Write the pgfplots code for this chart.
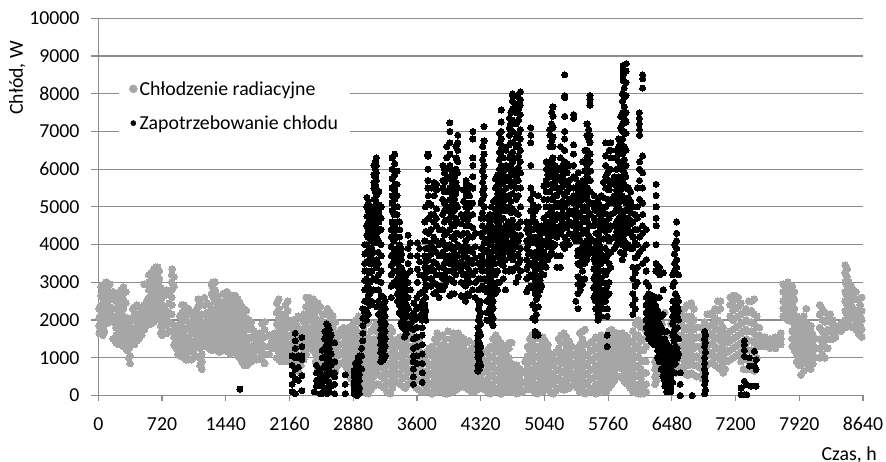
\documentclass[border=0pt]{standalone}
\usepackage{fontspec}
\setmainfont{Carlito}
\usepackage{pgfplots}
\usepackage{pgfplotstable}
\pgfplotsset{compat=1.18}
\definecolor{gridc}{HTML}{8C8C8C}
\definecolor{grayd}{HTML}{A6A6A6}
\pgfplotstableread{
t a b c d e f g h
10 1650 1850 2050 2300 nan nan nan nan
50 1600 1800 2000 2200 2400 2600 2800 nan
90 1900 2100 2300 2500 2700 2850 3000 nan
130 1950 2150 2350 2550 2750 2950 nan nan
230 1350 1550 1750 1950 2150 2350 2550 2700
285 1300 1500 1700 1900 2100 2300 2550 2880
330 1200 1400 1600 1800 2050 nan nan nan
360 850 1050 1300 1550 1800 2000 nan nan
410 1350 1550 1750 2000 2200 2350 nan nan
460 1500 1700 1900 2150 2350 nan nan nan
520 1750 1950 2150 2400 2950 nan nan nan
570 1950 2150 2350 2600 2800 3000 3200 nan
600 1900 2100 2300 2500 2700 2900 3100 3250
650 2000 2200 2400 2600 2800 3000 3200 3400
690 2100 2300 2500 2700 2900 3100 3300 nan
720 1600 1800 2000 2200 2400 2600 2800 nan
770 1650 1850 2050 2250 2800 nan nan nan
830 1700 1900 2150 2400 2600 2800 3000 3200
835 3350 nan nan nan nan nan nan nan
880 1250 1450 1650 1850 nan nan nan nan
920 1050 1250 1450 1700 1900 2100 nan nan
965 1000 1200 1400 1600 1800 2050 2400 nan
1020 950 1150 1350 1550 1750 1950 2150 2300
1075 1000 1200 1400 1650 1850 2050 nan nan
1130 1350 1550 1750 1950 2150 2350 2550 nan
1170 700 900 1100 1300 1500 1700 1900 2150
1225 1400 1600 1800 2000 2200 2450 nan nan
1280 1200 1400 1650 1850 2100 2300 2700 2950
1320 1300 1500 1700 1900 2200 2500 2800 3000
1370 1150 1400 1600 1800 2000 2250 2500 nan
1450 1250 1450 1650 1850 2050 2300 2550 2750
1490 1100 1300 1500 1700 1900 2100 2350 2600
1550 1250 1450 1650 1850 2050 2250 2450 2650
1600 1000 1200 1400 1600 1800 2000 2200 2450
1650 800 1000 1200 1400 1600 1850 2100 2300
1700 850 1050 1250 1500 1750 2000 nan nan
1760 950 1150 1350 1550 1700 nan nan nan
1820 1000 1200 1450 1650 nan nan nan nan
1880 850 1100 1300 1550 1750 1950 nan nan
1930 1100 1300 1600 nan nan nan nan nan
1990 1400 1550 1650 nan nan nan nan nan
2040 950 1150 1350 1550 1800 2050 2300 2550
2090 900 1100 1300 1550 1800 2000 nan nan
2140 900 1100 1300 1550 1800 2000 2250 2500
2200 850 1000 1250 1500 1750 2000 nan nan
2260 650 850 1050 1300 1550 1800 2100 nan
2320 950 1200 1450 1700 1950 2150 nan nan
2380 1250 1500 1750 2000 2250 2500 2600 nan
2430 1200 1400 1650 1900 2150 2400 2550 nan
2480 700 950 1200 1450 1700 1950 2250 2450
2540 400 600 850 1100 1350 1600 1850 2150
2590 500 800 1100 1400 1650 1950 2300 nan
2650 550 800 1050 1300 1550 1800 2100 nan
2710 800 1050 1300 1550 nan nan nan nan
2770 900 1150 1400 1650 1800 nan nan nan
2830 600 850 1100 1350 1600 1800 nan nan
2880 300 550 800 1050 1300 1600 1900 nan
2940 100 350 600 850 1100 1350 1650 2100
3000 150 400 650 900 1150 1400 1700 2050
3050 50 300 550 800 1050 1300 1550 1950
3110 250 500 750 1000 1250 1500 1800 nan
3170 300 550 800 1050 1300 1550 1850 nan
3230 200 450 700 950 1200 1450 1750 nan
3300 50 300 550 800 1050 1300 1550 1800
3350 400 650 900 1150 1400 nan nan nan
3410 300 550 800 1050 1300 1550 nan nan
3470 200 500 800 1100 1350 1600 nan nan
3530 400 700 1000 1300 1650 nan nan nan
3590 200 500 800 1100 1400 1800 nan nan
3650 100 400 700 1000 nan nan nan nan
3710 150 400 650 900 1150 nan nan nan
3770 50 300 550 800 1050 1300 nan nan
3830 100 350 600 850 1100 1400 1650 nan
3890 100 350 600 850 1100 1350 1600 nan
3950 50 300 550 800 1050 1300 1700 nan
4010 100 350 600 850 1100 1350 1650 nan
4070 200 450 700 950 1200 1450 1650 nan
4130 250 500 750 1000 1250 1500 nan nan
4190 150 400 650 900 1150 1450 nan nan
4250 100 350 600 850 1100 1350 nan nan
4310 250 500 750 1000 1300 nan nan nan
4370 150 400 650 900 1150 nan nan nan
4430 50 300 550 800 1050 1300 nan nan
4490 150 400 650 900 1150 1400 1600 nan
4550 50 300 550 800 1100 1400 nan nan
4610 100 350 600 850 1100 1300 nan nan
4670 100 350 600 850 1400 nan nan nan
4730 50 300 550 800 nan nan nan nan
4790 100 350 600 nan nan nan nan nan
4850 200 500 800 1050 1300 nan nan nan
4900 150 400 650 900 1150 1400 1600 nan
4960 50 300 550 800 1050 1300 1650 nan
5020 100 350 600 850 1100 1350 1550 nan
5080 200 450 700 950 1200 1350 nan nan
5140 50 300 550 800 1000 nan nan nan
5200 200 450 700 950 1250 1500 nan nan
5260 150 400 650 900 1150 1400 1650 nan
5320 200 450 700 950 1200 1450 nan nan
5380 350 600 850 1100 nan nan nan nan
5440 100 350 600 850 1100 1350 1650 nan
5500 50 300 550 800 1050 1350 1750 nan
5560 200 450 700 950 1200 1400 nan nan
5620 50 300 550 800 1050 1300 1550 nan
5680 150 400 650 900 1150 1400 1600 nan
5740 100 350 600 850 1100 1350 nan nan
5800 300 550 800 1050 1300 1600 1750 nan
5860 500 750 1000 1250 1500 1650 nan nan
5920 450 700 950 1200 1450 1650 nan nan
5980 300 550 800 1050 1300 1550 nan nan
6040 100 350 600 850 1100 1400 1700 nan
6100 50 300 550 800 1050 1300 1600 2000
6160 50 300 600 900 1200 1500 1900 nan
6290 300 500 700 900 nan nan nan nan
6340 800 1050 1300 1500 1700 2000 nan nan
6400 1000 1300 1600 2200 nan nan nan nan
6470 700 1000 1300 1600 1900 nan nan nan
6530 600 900 1200 1500 1800 2100 nan nan
6590 750 1000 1300 1600 1900 2200 nan nan
6650 550 800 1050 1300 1550 1800 2100 2400
6700 600 850 1100 1350 1600 1850 2100 2450
6760 500 800 1050 1300 1550 1800 nan nan
6820 450 700 950 1200 1500 1800 nan nan
6880 800 1050 1300 1550 1800 2150 nan nan
6940 900 1150 1400 1650 1900 2200 nan nan
7000 750 1000 1250 1500 1750 2000 2250 2500
7060 600 850 1100 1350 1600 1800 nan nan
7110 900 1150 1400 1600 nan nan nan nan
7170 1000 1250 1500 1750 2000 2250 2500 2650
7230 1100 1350 1600 1850 2100 2350 2600 nan
7290 700 950 1200 1450 1700 1950 2200 nan
7350 700 950 1200 1450 1700 1950 2200 2500
7410 650 900 1150 1400 1650 1900 2150 2550
7470 1300 1450 1600 1800 nan nan nan nan
7530 1300 1450 1550 nan nan nan nan nan
7590 1250 1400 1500 nan nan nan nan nan
7650 1250 1400 1550 nan nan nan nan nan
7710 1350 1500 1650 nan nan nan nan nan
7740 2100 2300 2500 2750 2950 nan nan nan
7790 2000 2200 2400 2600 2800 3000 nan nan
7840 1300 1500 1700 1950 2200 2450 2700 2900
7890 900 1100 1350 1600 1850 2100 nan nan
7940 550 800 1050 1300 1550 1800 2000 nan
8000 950 1200 1450 1700 1950 2300 nan nan
8050 700 950 1200 1450 1700 1850 nan nan
8100 1000 1250 1500 nan nan nan nan nan
8150 1000 1250 1500 1800 2150 2400 nan nan
8210 1000 1300 1600 1950 2200 nan nan nan
8270 1500 1700 1950 2150 nan nan nan nan
8330 1550 1700 1850 nan nan nan nan nan
8390 1700 1900 nan nan nan nan nan nan
8440 1800 2000 2250 2500 2750 3000 3250 3450
8480 1850 2050 2300 2500 2750 3000 nan nan
8530 1800 2050 2300 2550 2800 nan nan nan
8590 1650 1900 2200 2550 nan nan nan nan
8625 1550 1750 2000 2250 2600 nan nan nan
30 1750 1950 2150 2400 2650 2900 nan nan
70 1700 1900 2100 2300 2500 2700 2950 nan
110 2000 2200 2400 2600 2800 2950 nan nan
170 1500 1950 2050 2300 2600 2750 nan nan
200 1400 1600 1800 2100 2300 2500 nan nan
260 1400 1600 1850 2050 2250 2450 2650 2800
310 1250 1450 1650 1850 2000 2450 2750 nan
345 1000 1250 1500 1700 1900 nan nan nan
390 1350 1550 1750 2050 2300 nan nan nan
435 1450 1650 1850 2100 2400 nan nan nan
490 1600 1800 2050 2300 nan nan nan nan
545 1850 2050 2250 2500 2950 nan nan nan
625 1950 2150 2350 2550 2750 2950 3150 3350
670 2050 2250 2450 2650 2850 3050 3250 3400
705 1650 1850 2050 2250 2450 2650 2850 nan
745 1650 1850 2100 2300 2650 nan nan nan
800 1700 1950 2200 2450 2700 nan nan nan
855 1350 1550 1750 2900 3150 nan nan nan
900 1100 1350 1600 1850 nan nan nan nan
945 1050 1300 1500 1750 1950 2200 2400 nan
990 950 1150 1350 1550 1750 2000 2250 nan
1050 950 1250 1450 1700 1950 2200 nan nan
1100 1050 1300 1500 1750 1950 2250 nan nan
1150 800 1000 1250 1450 1650 1900 2100 2450
1200 1300 1500 1700 1950 2150 2400 2600 nan
1250 1250 1500 1750 1950 2200 2400 nan nan
1300 1250 1450 1750 2000 2250 2600 2850 3000
1345 1200 1450 1650 1850 2100 2350 2650 nan
1410 1200 1350 1550 1750 1950 2150 2400 2700
1470 1150 1400 1600 1800 2000 2200 2450 2700
1520 1150 1350 1550 1750 1950 2200 2500 2650
1575 1050 1300 1500 1700 1900 2100 2350 2550
1625 900 1100 1300 1500 1700 1950 2150 2350
1675 800 950 1150 1350 1550 1800 2050 2250
1730 900 1100 1300 1550 1800 1950 nan nan
1790 950 1250 1450 1650 nan nan nan nan
1850 950 1150 1350 1600 1900 nan nan nan
1960 1250 1450 1600 nan nan nan nan nan
2015 1000 1250 1450 1650 1900 2200 2450 nan
2065 900 1200 1400 1650 1900 2150 nan nan
2115 950 1200 1400 1650 1900 2150 2400 nan
2170 900 1150 1350 1600 1850 nan nan nan
2230 750 950 1150 1400 1650 1900 nan nan
2290 800 1050 1300 1500 1750 2050 nan nan
2350 1100 1350 1600 1850 2100 2350 2600 nan
2405 1250 1500 1800 2050 2300 2550 nan nan
2455 900 1100 1300 1550 1800 2050 2300 nan
2510 550 800 1000 1250 1500 1750 2000 2350
2565 450 700 950 1250 1500 1800 2150 nan
2620 500 700 950 1250 1500 1700 2000 2200
2680 650 900 1150 1400 1650 1950 nan nan
2740 850 1100 1350 1600 1750 nan nan nan
2800 750 1000 1250 1500 1700 nan nan nan
2855 450 700 950 1200 1450 1700 nan nan
2910 200 450 700 950 1200 1450 1750 2000
2970 100 250 500 750 1000 1250 1550 1900
3025 100 250 500 750 1000 1250 1500 1900
3080 150 400 650 900 1150 1400 1700 nan
3140 300 650 900 1150 1400 1700 1900 nan
3200 250 500 750 1000 1250 1500 1800 nan
3265 100 350 600 850 1100 1350 1650 nan
3325 200 450 700 950 1200 1450 1700 nan
3380 350 550 800 1050 1300 1500 nan nan
3440 250 450 700 950 1200 1450 nan nan
3500 300 600 900 1200 1500 nan nan nan
3560 300 600 900 1200 1500 1750 nan nan
3620 150 400 650 900 1200 1500 nan nan
3680 100 300 550 850 1100 nan nan nan
3740 100 300 550 800 1100 1250 nan nan
3800 100 200 450 700 950 1200 1500 nan
3860 150 250 500 750 1000 1250 1550 nan
3920 50 200 450 700 950 1200 1500 nan
3980 100 200 450 700 950 1200 1500 nan
4040 150 250 500 750 1000 1250 1550 nan
4100 250 350 600 850 1100 1350 1550 nan
4160 200 350 600 850 1100 1400 nan nan
4220 100 250 500 750 1000 1250 nan nan
4280 150 400 650 900 1150 nan nan nan
4340 200 350 600 850 1100 nan nan nan
4400 100 200 450 700 950 1200 nan nan
4460 100 250 500 750 1000 1250 1500 nan
4520 100 200 450 700 950 1250 1500 nan
4580 80 200 450 700 950 1200 nan nan
4640 100 250 500 750 1000 1250 1400 nan
4700 80 200 450 700 nan nan nan nan
4760 80 200 450 700 nan nan nan nan
4820 150 350 650 900 nan nan nan nan
4875 170 350 650 950 1200 1500 nan nan
4930 100 250 500 750 1000 1250 1500 1650
4990 80 200 450 700 950 1200 1500 nan
5050 150 250 500 750 1000 1250 1450 nan
5110 100 350 600 850 1100 nan nan nan
5170 120 400 650 900 1150 nan nan nan
5230 170 350 600 850 1100 1400 1600 nan
5290 170 300 550 800 1050 1300 1550 nan
5350 250 550 800 1050 1300 nan nan nan
5410 200 450 750 1000 1250 nan nan nan
5470 80 200 450 700 950 1200 1500 1700
5530 100 350 600 850 1100 1350 nan nan
5590 100 200 450 700 950 1200 1450 nan
5650 100 250 500 750 1000 1250 1500 nan
5710 120 250 500 750 1000 1250 1500 nan
5770 200 450 700 950 1200 1500 1700 nan
5830 400 650 900 1150 1400 1650 nan nan
5890 500 850 1100 1350 1600 nan nan nan
5950 350 600 850 1100 1350 1600 nan nan
6010 200 450 700 950 1200 1450 nan nan
6070 80 250 500 750 1000 1250 1550 1900
6130 50 200 450 700 950 1200 1450 1800
6190 100 300 600 900 1300 1700 nan nan
6310 400 600 800 1000 1500 nan nan nan
6370 900 1150 1400 1600 1900 nan nan nan
6500 650 950 1250 1550 1850 2050 nan nan
6560 700 1000 1300 1600 1900 2150 nan nan
6620 650 900 1150 1450 1750 2050 2300 nan
6675 550 800 1000 1250 1500 1750 2000 2400
6730 550 800 1000 1250 1500 1750 2000 2300
6790 500 750 1000 1300 1550 1800 nan nan
6850 600 850 1100 1350 1650 1950 nan nan
6910 850 1100 1350 1600 1850 2150 nan nan
6970 800 1050 1300 1550 1800 2050 2300 nan
7030 700 950 1200 1450 1700 1950 2300 2500
7085 700 950 1200 1450 1650 nan nan nan
7140 950 1200 1450 1700 2100 2400 2600 nan
7200 1050 1300 1550 1800 2050 2300 2550 2650
7260 900 1150 1400 1650 1900 2150 2450 nan
7320 700 950 1250 1500 1750 2000 2300 nan
7380 700 950 1200 1450 1700 1950 2250 2500
7440 1000 1300 1550 1800 2100 nan nan nan
7810 2100 2300 2500 2700 2900 nan nan nan
7765 2050 2250 2450 2650 2850 nan nan nan
7865 1200 1400 1600 1800 2050 2300 2550 2750
7915 800 1000 1250 1500 1750 2000 nan nan
7970 650 900 1150 1400 1650 1900 2100 nan
8025 800 1050 1300 1550 1800 nan nan nan
8075 850 1100 1350 1600 nan nan nan nan
8180 1100 1400 1700 2000 2300 nan nan nan
8240 1250 1500 1750 2050 nan nan nan nan
8300 1500 1650 1800 2000 nan nan nan nan
8415 1800 1950 nan nan nan nan nan nan
8460 1900 2150 2400 2650 2900 3150 3350 nan
8505 1850 2150 2400 2650 2900 nan nan nan
8560 1750 2000 2250 2550 2750 nan nan nan
8610 1600 1850 2100 2400 nan nan nan nan
}\grayt
\pgfplotstableread{
t a b c d e f g h
1600 170 nan nan nan nan nan nan nan
2190 100 300 550 800 1050 nan nan nan
2225 50 450 700 1000 1250 1450 1650 nan
2260 400 750 1050 nan nan nan nan nan
2300 130 530 950 1050 1300 1540 nan nan
2440 100 nan nan nan nan nan nan nan
2465 250 400 600 800 nan nan nan nan
2510 50 350 500 700 nan nan nan nan
2530 50 250 550 1000 1200 nan nan nan
2580 50 400 700 850 1100 1350 1600 1900
2610 100 350 650 950 1250 1500 1750 nan
2670 50 300 500 600 900 1400 nan nan
2790 50 300 550 nan nan nan nan nan
2890 50 200 350 500 650 nan nan nan
2920 0 150 300 450 600 750 nan nan
2950 50 200 400 550 700 900 1050 nan
2975 700 1050 1250 nan nan nan nan nan
2990 1450 1650 1850 2050 2300 nan nan nan
3030 2000 2250 2500 2850 3100 3300 3550 3800
3035 4000 4250 4500 4750 5000 5250 nan nan
3070 2400 2700 3000 3250 3500 3700 3900 nan
3075 4150 4400 4700 4850 nan nan nan nan
3110 2800 3100 3500 3800 4050 4300 4500 4800
3115 5000 5200 5500 5650 5850 6100 nan nan
3145 2350 3050 3400 3600 4050 4200 4450 4700
3140 4950 5100 5300 5500 5700 5900 6100 6300
3190 900 1150 1350 1550 1750 1950 2200 2400
3195 2650 3000 3300 3700 4000 4400 4700 5000
3220 950 1200 1400 1600 1800 2000 2200 2400
3225 2600 nan nan nan nan nan nan nan
3340 3000 3300 3550 3800 4100 4250 4500 4800
3350 5000 5200 5450 5600 5850 6150 6400 nan
3380 2500 2700 2900 3100 3300 3500 3700 3900
3375 4200 4400 4600 4800 5000 5300 5600 5950
3420 1900 2150 2350 2550 2750 2950 3150 3400
3425 3600 3750 3900 nan nan nan nan nan
3460 1550 1750 2050 2300 2500 2700 2900 3100
3500 1800 2300 2600 3000 3500 3900 4250 nan
3560 300 500 700 900 1050 1250 1500 1750
3565 2000 2200 2450 nan nan nan nan nan
3600 850 1050 1300 1550 1800 2050 2300 2600
3605 3000 3350 3700 4050 nan nan nan nan
3660 350 600 850 1100 1350 1600 1800 2000
3665 2200 2500 2750 nan nan nan nan nan
3690 2100 2400 2800 3100 3400 3700 4100 4600
3695 5000 nan nan nan nan nan nan nan
3730 2900 3300 3600 3900 4300 4700 5100 5300
3725 5500 5700 6000 6350 6400 nan nan nan
3790 2700 3000 3300 3550 3900 4200 4600 4800
3795 5300 5650 nan nan nan nan nan nan
3850 2600 2900 3200 3400 3700 4000 4400 nan
3890 2800 3100 3400 3800 4100 4400 4800 5200
3895 5500 5700 6100 nan nan nan nan nan
3930 3000 3300 3600 3900 4300 4650 5000 5400
3935 5750 6000 6300 6600 nan nan nan nan
3970 2650 3100 3500 3700 4000 4400 4700 4900
3972 5200 5500 5800 6100 6400 6700 7000 7230
4020 2700 3000 3350 3600 3800 4150 4500 4900
4025 5200 5500 5800 nan nan nan nan nan
4060 3400 3700 4000 4300 4600 5000 5500 5900
4062 6200 6500 6700 6900 nan nan nan nan
4100 2650 3000 3300 3550 3850 4250 4550 4800
4150 2500 2900 3200 3500 3800 4100 4500 5000
4155 5300 5550 5700 nan nan nan nan nan
4190 2650 3000 3300 3600 3900 4200 4500 4750
4195 5000 5300 5550 nan nan nan nan nan
4230 2800 3200 3500 3800 4200 4450 4800 5100
4232 5500 5800 6100 6300 6800 7000 nan nan
4290 650 800 1000 1150 1300 1450 1600 1800
4295 2000 2300 2500 2800 3100 3500 nan nan
4320 800 1100 1300 1600 1900 2200 2500 3100
4325 3400 3700 3900 4300 4700 5100 nan nan
4360 2800 3100 3500 3800 4050 4350 4700 5000
4358 5300 5500 5800 6100 6400 6750 7130 nan
4420 2000 2300 2600 2900 3200 3400 3700 4000
4425 4300 4550 4800 nan nan nan nan nan
4460 1850 2050 2300 2500 2700 3000 3300 3650
4465 3950 4200 4450 4800 5150 nan nan nan
4510 2800 3000 3300 3700 4000 4300 4600 4800
4515 5000 5350 5600 5850 nan nan nan nan
4550 3500 3800 4100 4400 4650 4900 5300 5600
4552 5900 6100 6350 6550 6800 7000 7250 7570
4600 2800 3300 3600 3900 4200 4500 4900 5200
4605 5500 5800 6100 6500 nan nan nan nan
4640 3300 3800 4050 4350 4600 5000 5300 5700
4645 6000 6300 6650 6900 7100 7350 nan nan
4680 3300 3600 3850 4100 4350 4650 4950 5350
4682 5650 5900 6200 6450 6700 7000 7300 7600
4680 7800 7950 8000 nan nan nan nan nan
4720 3000 3400 3700 3950 4250 4500 4850 5200
4722 5500 5800 6000 6300 6600 6850 7200 7500
4725 7700 7950 nan nan nan nan nan nan
4770 3300 3600 3900 4250 4600 5000 5500 5900
4768 6200 6500 6800 7050 7450 7700 7850 8050
4840 2750 3100 3350 3600 3900 4100 4400 4600
4885 2900 3200 3500 3800 4200 4600 4900 5200
4887 5500 6100 6700 6900 7100 nan nan nan
4935 1600 1700 2000 2300 2700 3000 3300 3600
4938 3800 4200 4600 4900 nan nan nan nan
4970 1600 2350 2650 2900 3150 3450 3700 4000
4972 4400 5000 5300 nan nan nan nan nan
5010 2900 3200 3600 3800 4100 4500 nan nan
5060 3400 3700 4100 4350 4600 5000 5400 5700
5062 6000 6200 nan nan nan nan nan nan
5100 3700 3950 4200 4500 4800 5000 5400 5800
5102 6000 6200 6600 6900 7050 nan nan nan
5135 3950 4250 4500 4800 5200 5500 5800 6000
5137 6300 6600 6850 7100 7400 7650 nan nan
5180 3400 3700 4200 4450 4800 5100 5300 5500
5182 5800 6000 nan nan nan nan nan nan
5220 3400 3700 4300 4500 4700 5000 5400 5700
5222 6000 6300 6600 nan nan nan nan nan
5270 3900 4200 4550 4750 5000 5300 5700 6000
5270 6200 6500 6800 7000 7400 7900 7950 8500
5320 4000 4300 4600 4900 5200 5500 5700 6100
5370 4200 4500 4800 5100 5300 5500 5800 6100
5370 6400 6650 7350 7450 nan nan nan nan
5420 2300 2700 2950 3150 3500 3700 3850 4200
5422 4500 4800 5100 5400 5600 5900 nan nan
5470 2950 3300 3600 3950 4300 4600 4900 5200
5472 5500 5700 6200 nan nan nan nan nan
5520 3600 3850 4100 4400 4700 5000 5300 5500
5522 5800 6100 6300 6500 6900 7200 nan nan
5560 3900 4150 4500 4800 5100 5400 5700 5950
5555 6200 6400 6700 6900 7700 7850 7950 nan
5600 2600 2850 3100 3350 3600 3800 4100 4500
5602 4700 5000 5300 nan nan nan nan nan
5645 2000 2150 2350 2550 2750 2950 3150 3400
5647 3650 3850 4100 4300 4600 4900 5200 nan
5680 2100 2350 2550 2800 3100 3500 3900 4400
5682 4700 5000 5300 nan nan nan nan nan
5730 2500 2800 3200 3600 3900 4350 4600 5000
5732 5500 5800 6100 6350 6700 nan nan nan
5750 1300 1600 2100 2300 2650 2900 3300 3700
5752 4200 4500 4800 5200 5900 nan nan nan
5790 3400 3800 4150 4500 4800 5200 5600 6000
5792 6300 6500 6700 nan nan nan nan nan
5830 3900 4200 4500 4850 5100 5300 5600 5800
5880 4100 4400 4700 5000 5300 5600 5800 6200
5882 6400 6600 6800 nan nan nan nan nan
5920 3600 4000 4200 4500 4800 5300 5700 6000
5922 6400 6800 7000 7200 7500 7800 8000 nan
5930 8350 8500 8650 8750 nan nan nan nan
5960 3900 4300 4500 4700 4900 5100 5500 5800
5962 6100 6500 6950 7250 7500 7950 8300 8600
5965 8800 nan nan nan nan nan nan nan
5990 4000 4400 4700 5000 5250 5500 nan nan
6040 2150 2400 2700 3100 3400 3900 4200 4600
6042 5000 nan nan nan nan nan nan nan
6090 3000 3400 3700 4000 4400 4700 5000 5500
6115 3800 4200 5200 5700 6000 6200 6900 7050
6113 7200 7350 7500 nan nan nan nan nan
6150 3500 3900 4300 4500 4800 5100 5500 5900
6150 6350 8150 8400 8500 nan nan nan nan
6190 1800 2000 2200 2400 2600 3000 3300 3600
6192 4000 4400 nan nan nan nan nan nan
6220 1500 1700 1900 2100 2300 2500 2700 2900
6260 1400 1550 1750 1950 2100 2300 2500 2650
6300 1350 1500 1750 1900 2100 2350 2600 3300
6302 3500 4000 4500 4700 5000 5300 5600 nan
6340 900 1100 1300 1500 1700 1900 2150 2600
6342 3200 3400 nan nan nan nan nan nan
6380 500 700 900 1050 1200 1400 1700 2150
6382 2800 3250 nan nan nan nan nan nan
6420 100 300 450 600 750 950 1200 1400
6422 1700 nan nan nan nan nan nan nan
6450 150 250 400 550 700 900 1100 1300
6490 350 800 1150 1250 1600 1900 2100 2300
6492 2500 2900 3200 nan nan nan nan nan
6520 850 1050 1300 1550 1800 2100 2400 2700
6535 3400 3600 3900 4100 4300 4600 nan nan
6555 1100 1500 2000 2250 2500 3200 nan nan
6575 0 300 600 nan nan nan nan nan
6710 0 nan nan nan nan nan nan nan
6850 50 300 500 700 850 1000 1300 1500
6852 1700 nan nan nan nan nan nan nan
7263 25 200 nan nan nan nan nan nan
7300 25 380 1040 1200 1350 1450 nan nan
7327 25 290 nan nan nan nan nan nan
7357 1000 780 nan nan nan nan nan nan
7376 250 nan nan nan nan nan nan nan
7413 1175 780 nan nan nan nan nan nan
7432 250 950 690 nan nan nan nan nan
3010 2200 2500 2800 3050 3300 3500 3750 4000
3050 4200 4400 4600 4900 5100 2150 2650 2950
3090 2500 2800 3300 3600 3900 4100 4300 4600
3130 4800 5000 5200 5400 5600 5800 6000 6200
3165 2150 2500 2800 3200 3500 3800 4100 4350
3170 4600 4850 5050 5400 nan nan nan nan
3240 1050 1300 1500 1700 1900 2100 2300 2500
3310 2600 2900 3200 3450 3700 3950 4200 4400
3320 4600 4900 5100 5300 5500 5750 6000 6300
3400 2200 2400 2600 2800 3000 3200 3400 3600
3405 3800 4000 4200 4400 4600 nan nan nan
3440 1800 2000 2250 2450 2650 2850 3050 3300
3480 1650 1900 2150 2400 2600 2800 3000 3200
3525 1900 2100 2800 3300 3700 4050 nan nan
3630 2100 2350 2700 3200 3550 3900 nan nan
3700 2000 2250 2600 2950 3250 3550 3900 4350
3760 2900 3100 3400 3750 4050 4400 4800 5050
3762 5500 nan nan nan nan nan nan nan
3820 2750 2950 3200 3500 3800 4100 4500 4700
3822 4950 5450 5600 nan nan nan nan nan
3910 2900 3200 3500 3700 4000 4250 4600 4900
3912 5100 5400 5650 5900 6000 nan nan nan
3995 2700 3050 3300 3600 3900 4200 4550 4800
3997 5050 5350 5650 5950 nan nan nan nan
4040 3200 3500 3700 3950 4300 4700 5050 5350
4042 5650 6000 6300 6600 nan nan nan nan
4125 2600 2950 3200 3450 3700 3950 4300 4700
4127 5150 5450 nan nan nan nan nan nan
4170 2700 3100 3400 3650 3950 4300 4650 4850
4172 5100 5400 5600 nan nan nan nan nan
4260 2600 3000 3300 3650 3950 4300 nan nan
4305 700 900 1050 1250 1400 1700 2100 2400
4340 2900 3300 3600 3900 4200 4500 4850 5200
4342 5400 5650 5950 6250 6600 nan nan nan
4390 2000 2200 2500 2750 3050 3300 3550 3850
4392 4150 4450 4700 nan nan nan nan nan
4440 1950 2150 2400 2600 2850 3150 3500 3800
4442 4100 4350 4650 5000 nan nan nan nan
4485 2700 2950 3200 3500 3850 4150 4450 4700
4487 4950 5200 5500 5750 nan nan nan nan
4530 3000 3650 3950 4250 4500 4750 5150 5450
4532 5750 6000 6250 6450 6700 6950 nan nan
4575 3100 3450 3750 4050 4350 4700 5050 5350
4577 5650 5950 6300 6600 nan nan nan nan
4660 3350 3700 3950 4250 4500 4850 5150 5550
4662 5850 6100 6400 6700 7000 7200 7500 nan
4745 3150 3500 3750 4100 4450 4800 5300 5700
4747 6050 6350 6650 6950 7300 7600 7900 nan
4860 2850 3150 3450 3750 4000 4300 4500 nan
4910 2050 2400 2850 3150 3450 3700 4050 4400
4912 4750 5050 5350 nan nan nan nan nan
4950 2150 2550 2800 3100 3400 3750 4100 4500
4990 2800 3050 3350 3700 3900 4250 nan nan
5035 3200 3500 3800 4000 4350 4700 5200 5550
5080 3600 3950 4250 4500 4800 5200 5600 5850
5082 6100 nan nan nan nan nan nan nan
5120 3800 4050 4350 4650 4900 5200 5600 5950
5122 6250 6750 7200 7500 nan nan nan nan
5160 4000 4350 4650 5000 5300 5650 5900 6100
5245 4000 4400 4600 4850 5150 5550 5850 6100
5295 4100 4450 4750 5100 5400 5600 5900 6150
5395 2500 4100 4350 4650 4950 5200 5500 5750
5445 2800 3100 3450 3800 4100 4450 4750 5050
5447 5300 5600 nan nan nan nan nan nan
5495 3100 3500 3750 4050 4350 4700 5000 5350
5497 5600 5950 6500 nan nan nan nan nan
5540 3750 4000 4250 4550 4850 5150 5450 5700
5542 5950 6200 6400 6800 7050 nan nan nan
5620 2300 2500 2700 2950 3200 3500 3700 3950
5622 4300 4600 4900 5100 nan nan nan nan
5660 2050 2250 2450 2650 2850 3050 3300 3550
5662 3800 4000 4200 4500 4800 5050 nan nan
5705 2300 2650 3000 3300 3700 4150 4500 4850
5707 5250 5650 nan nan nan nan nan nan
5770 2700 3000 3500 3800 4100 4400 4700 5100
5772 5450 5700 6000 6500 nan nan nan nan
5855 4000 4350 4600 4950 5200 5450 5700 6000
5857 6300 6500 nan nan nan nan nan nan
5900 3800 4250 4550 4850 5150 5450 5750 6100
5902 6500 6700 7100 7400 nan nan nan nan
5940 3750 4100 4350 4600 4900 5200 5600 5900
5942 6250 6600 7000 7350 7650 7900 8150 nan
6015 3900 4300 4550 4850 5150 5400 nan nan
6065 2300 2550 2900 3250 3650 4050 4400 4800
6205 1650 1850 2050 2250 2450 2650 nan nan
6240 1450 1600 1800 2000 2200 2400 2600 nan
6280 1350 1500 1650 1850 2000 2200 2450 nan
6320 1000 1200 1400 1600 1800 2000 2250 nan
6360 700 900 1100 1300 1500 1800 2100 nan
6400 250 400 600 800 1000 1200 1500 nan
6435 100 200 350 500 650 850 1050 1250
6470 100 250 450 700 nan nan nan nan
6505 600 950 1200 1450 1700 2000 2250 2500
6510 3000 3300 3500 3750 4000 nan nan nan
6540 1000 1250 1500 1800 2100 2350 2600 nan
2560 150 500 800 1000 1250 1500 1700 nan
2595 200 550 900 1150 1400 1700 1850 nan
2630 250 600 800 1100 1400 1600 nan nan
2905 100 250 400 550 700 850 nan nan
2935 100 250 350 500 650 800 1000 nan
3205 1000 1250 1450 1650 1850 2050 2300 nan
6860 150 400 600 1150 1400 1600 nan nan
}\blackt
\begin{document}
\begin{tikzpicture}[x=1pt,y=1pt]
\useasboundingbox (-98.3pt,-66.5pt) rectangle (787.7pt,395.5pt);
\begin{axis}[
  at={(0pt,0pt)},anchor=origin,
  scale only axis,width=764.7pt,height=377.2pt,
  xmin=0,xmax=8640,ymin=0,ymax=10000,
  axis x line*=bottom,axis y line*=left,
  axis line style={gridc,line width=1.2pt,-},
  xtick={0,720,...,8640},ytick={0,1000,...,10000},
  ymajorgrids,grid style={gridc,line width=1.2pt},
  tick align=outside,
  tick style={gridc,line width=1.2pt},
  xtick style={/pgfplots/major tick length=5.5pt},
  ytick style={/pgfplots/major tick length=7.5pt},
  every tick label/.append style={font=\fontsize{19.8}{22}\selectfont,black},
  xticklabel style={yshift=-14pt},
  yticklabel style={xshift=-11pt},
  /pgf/number format/assume math mode=true,
  /pgf/number format/1000 sep={},
  scaled ticks=false,
  clip=false,
  every axis y label/.style={at={(rel axis cs:-0.106,0.842)},rotate=90,anchor=center,font=\fontsize{19.8}{22}\selectfont},
  every axis x label/.style={at={(rel axis cs:0.982,-0.158)},anchor=center,font=\fontsize{19.8}{22}\selectfont},
  ylabel={Chłód, W},xlabel={Czas, h},
  legend cell align=left,
  legend style={at={(0.027,0.876)},anchor=north west,draw=none,fill=white,
    font=\fontsize{19.8}{22}\selectfont,inner xsep=10pt,inner ysep=14pt,
    /tikz/every even column/.style={column sep=11pt},row sep=15pt},
  gm/.style={only marks,mark=*,mark size=3.4pt,mark options={fill=grayd,draw=grayd,line width=0pt},
    legend image code/.code={\fill[grayd] (0.3cm,0) circle (4pt);}},
  bm/.style={only marks,mark=*,mark size=3.05pt,mark options={fill=black,draw=black,line width=0pt},
    legend image code/.code={\fill[black] (0.3cm,0) circle (2.6pt);}},
]
\addplot[gm] table[x=t,y=a]{\grayt};
\addlegendentry{Chłodzenie radiacyjne}
\pgfplotsinvokeforeach{b,c,d,e,f,g,h}{\addplot[gm,forget plot] table[x=t,y=#1]{\grayt};}
\addplot[bm] table[x=t,y=a]{\blackt};
\addlegendentry{Zapotrzebowanie chłodu}
\pgfplotsinvokeforeach{b,c,d,e,f,g,h}{\addplot[bm,forget plot] table[x=t,y=#1]{\blackt};}
\end{axis}
\end{tikzpicture}
\end{document}
